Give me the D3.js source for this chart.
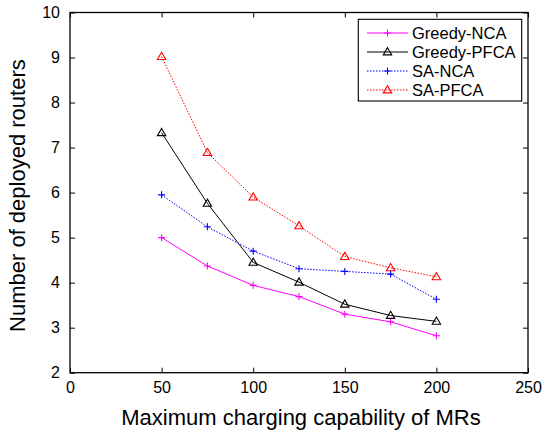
<!DOCTYPE html>
<html>
<head>
<meta charset="utf-8">
<script src="https://cdn.jsdelivr.net/npm/d3@7"></script>
<style>
  html, body { margin: 0; padding: 0; background: #fff; }
  svg { display: block; font-family: "Liberation Sans", Arial, sans-serif; }
</style>
</head>
<body>
<svg id="chart" width="543" height="436"></svg>
<script>
// data
const capability = [50, 75, 100, 125, 150, 175, 200];
const greedyNCA  = [5.00, 4.37, 3.94, 3.69, 3.30, 3.13, 2.82];
const greedyPFCA = [7.33, 5.76, 4.45, 4.01, 3.52, 3.27, 3.14];
const saNCA      = [5.95, 5.24, 4.70, 4.31, 4.25, 4.19, 3.63];
const saPFCA     = [9.02, 6.89, 5.90, 5.26, 4.58, 4.33, 4.13];

const xTicks = [0, 50, 100, 150, 200, 250];
const yTicks = [2, 3, 4, 5, 6, 7, 8, 9, 10];

const series = [
  { name: "Greedy-NCA",  values: greedyNCA,  color: "#ff00ff", dash: null,  marker: "plus" },
  { name: "Greedy-PFCA", values: greedyPFCA, color: "#000000", dash: null,  marker: "tri" },
  { name: "SA-NCA",      values: saNCA,      color: "#0000ff", dash: "1.5,1.5", marker: "plus" },
  { name: "SA-PFCA",     values: saPFCA,     color: "#ff0000", dash: "1.5,1.5", marker: "tri" },
];

const svg = d3.select("#chart");
const pLeft = 70, pRight = 528, pTop = 12.5, pBottom = 372.7;

const x = d3.scaleLinear().domain([0, 250]).range([pLeft, pRight]);
const y = d3.scaleLinear().domain([2, 10]).range([pBottom, pTop]);

// ------------------------------------------------------------------
// axes (MATLAB style box, inward ticks)
// ------------------------------------------------------------------
const tickLen = 5;
const font = "Liberation Sans, Arial, sans-serif";

svg.append("g")
  .attr("transform", `translate(0,${pBottom})`)
  .call(d3.axisBottom(x).tickValues(xTicks).tickSizeInner(-tickLen).tickSizeOuter(0).tickPadding(9))
  .call(g => g.select(".domain").remove())
  .call(g => g.selectAll("text").attr("font-size", 16).attr("fill", "#000").attr("font-family", font));

svg.append("g")
  .attr("transform", `translate(0,${pTop})`)
  .call(d3.axisTop(x).tickValues(xTicks).tickSizeInner(-tickLen).tickSizeOuter(0).tickFormat(""))
  .call(g => g.select(".domain").remove());

svg.append("g")
  .attr("transform", `translate(${pLeft},0)`)
  .call(d3.axisLeft(y).tickValues(yTicks).tickSizeInner(-tickLen).tickSizeOuter(0).tickPadding(10))
  .call(g => g.select(".domain").remove())
  .call(g => g.selectAll("text").attr("font-size", 16).attr("fill", "#000").attr("font-family", font));

svg.append("g")
  .attr("transform", `translate(${pRight},0)`)
  .call(d3.axisRight(y).tickValues(yTicks).tickSizeInner(-tickLen).tickSizeOuter(0).tickFormat(""))
  .call(g => g.select(".domain").remove());

svg.selectAll(".tick line").attr("stroke", "#000").attr("stroke-width", 1);

svg.append("rect")
  .attr("x", pLeft).attr("y", pTop)
  .attr("width", pRight - pLeft).attr("height", pBottom - pTop)
  .attr("fill", "none").attr("stroke", "#000").attr("stroke-width", 1.3);

// ------------------------------------------------------------------
// series
// ------------------------------------------------------------------
const line = d3.line().x((d, i) => x(capability[i])).y(d => y(d));

function drawMarker(g, type, cx, cy, color) {
  if (type === "plus") {
    g.append("path")
      .attr("d", `M${cx - 3.5},${cy}H${cx + 3.5}M${cx},${cy - 3.5}V${cy + 3.5}`)
      .attr("stroke", color).attr("stroke-width", 1.1).attr("fill", "none");
  } else {
    g.append("path")
      .attr("d", `M${cx},${cy - 4.3}L${cx + 4.2},${cy + 2.9}L${cx - 4.2},${cy + 2.9}Z`)
      .attr("stroke", color).attr("stroke-width", 1.1).attr("fill", "none");
  }
}

const plot = svg.append("g");
series.forEach(s => {
  plot.append("path")
    .attr("d", line(s.values))
    .attr("fill", "none")
    .attr("stroke", s.color)
    .attr("stroke-width", 1)
    .attr("stroke-dasharray", s.dash);
  const mg = plot.append("g");
  s.values.forEach((v, i) => drawMarker(mg, s.marker, x(capability[i]), y(v), s.color));
});

// ------------------------------------------------------------------
// legend
// ------------------------------------------------------------------
const legend = svg.append("g");
legend.append("rect")
  .attr("x", 358.3).attr("y", 19.3)
  .attr("width", 163.4).attr("height", 81.7)
  .attr("fill", "#fff").attr("stroke", "#000").attr("stroke-width", 1.1);

series.forEach((s, i) => {
  const cy = 33 + i * 19;
  legend.append("line")
    .attr("x1", 367).attr("x2", 408).attr("y1", cy).attr("y2", cy)
    .attr("stroke", s.color).attr("stroke-width", 1)
    .attr("stroke-dasharray", s.dash);
  drawMarker(legend, s.marker, 387.5, cy, s.color);
  legend.append("text")
    .attr("x", 412).attr("y", cy + 6)
    .attr("font-size", 16.5)
    .text(s.name);
});

// ------------------------------------------------------------------
// axis titles
// ------------------------------------------------------------------
svg.append("text")
  .attr("x", (pLeft + pRight) / 2 + 2).attr("y", 425)
  .attr("text-anchor", "middle")
  .attr("font-size", 22)
  .text("Maximum charging capability of MRs");

svg.append("text")
  .attr("transform", `translate(25,${(pTop + pBottom) / 2 + 3}) rotate(-90)`)
  .attr("text-anchor", "middle")
  .attr("font-size", 22)
  .text("Number of deployed routers");
</script>
</body>
</html>
